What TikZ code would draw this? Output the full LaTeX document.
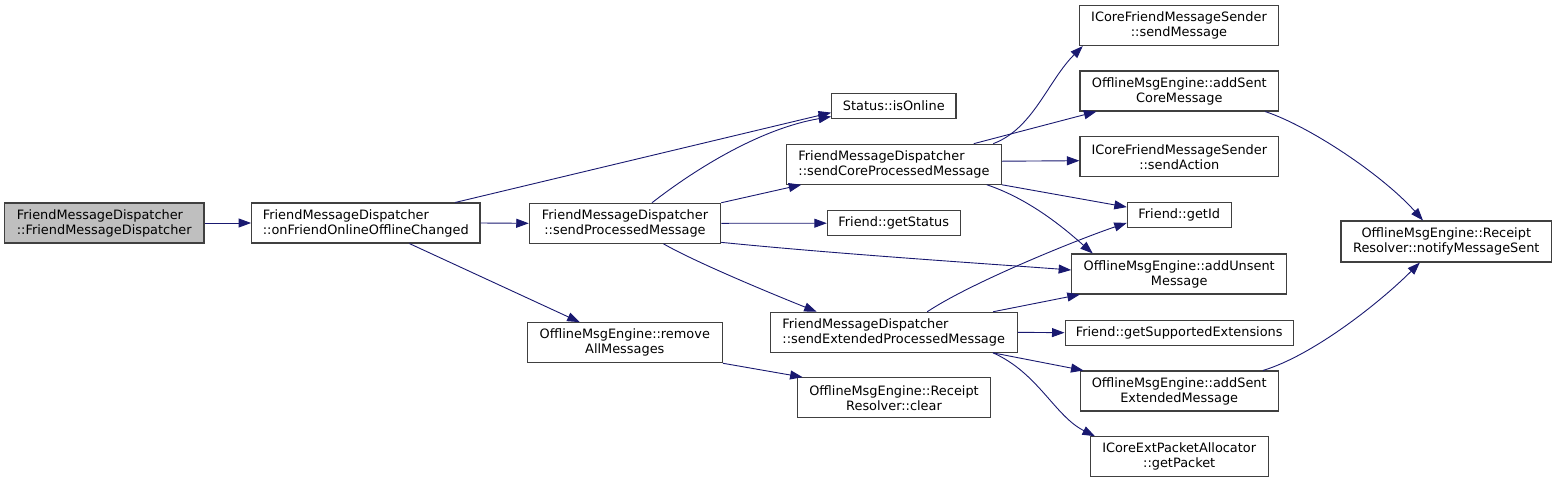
\documentclass[tikz,border=0pt]{standalone}
\usepackage{fontspec}
\setmainfont{DejaVu Sans}
\usetikzlibrary{arrows.meta,calc}
\definecolor{edgeblue}{HTML}{191970}
\definecolor{boxline}{HTML}{404040}
\definecolor{rootfill}{HTML}{BFBFBF}
\begin{document}
\begin{tikzpicture}[x=1pt,y=-1pt,
  fn/.style={draw=boxline,line width=1.1pt,fill=white,inner sep=0pt,
    font=\fontsize{12.9}{15}\selectfont,text=black},
  two/.style={fn,minimum height=40pt},
  one/.style={fn,minimum height=25.3pt},
  call/.style={draw=edgeblue,line width=0.9pt,-{Triangle[length=12.5pt,width=9pt]},fill=none}]
\useasboundingbox (0,0) rectangle (1557,483);
% nodes
\node[two,fill=rootfill,minimum width=199.3pt,align=left] (root) at (104.3,223) {FriendMessageDispatcher\\::FriendMessageDispatcher};
\node[two,minimum width=228.3pt,align=left] (onl) at (365.8,223) {FriendMessageDispatcher\\::onFriendOnlineOfflineChanged};
\node[two,minimum width=191.4pt,align=center] (spm) at (625,223.3) {FriendMessageDispatcher\\::sendProcessedMessage};
\node[one,minimum width=124.3pt] (ison) at (893.8,106) {Status::isOnline};
\node[two,minimum width=214.6pt,align=left] (score) at (894,164.2) {FriendMessageDispatcher\\::sendCoreProcessedMessage};
\node[one,minimum width=132.7pt] (gstat) at (893.7,223.2) {Friend::getStatus};
\node[two,minimum width=195pt,align=center] (rem) at (624.8,342.7) {OfflineMsgEngine::remove\\AllMessages};
\node[two,minimum width=247.3pt,align=left] (sext) at (893.7,332.3) {FriendMessageDispatcher\\::sendExtendedProcessedMessage};
\node[two,minimum width=193.4pt,align=center] (clr) at (894,397.7) {OfflineMsgEngine::Receipt\\Resolver::clear};
\node[two,minimum width=199.4pt,align=center] (smsg) at (1179,25.5) {ICoreFriendMessageSender\\::sendMessage};
\node[two,minimum width=198.7pt,align=center] (asc) at (1179.3,91) {OfflineMsgEngine::addSent\\CoreMessage};
\node[two,minimum width=198.7pt,align=center] (sact) at (1179.3,156.7) {ICoreFriendMessageSender\\::sendAction};
\node[one,minimum width=103.7pt] (gid) at (1179.2,215) {Friend::getId};
\node[two,minimum width=215pt,align=center] (aun) at (1179.2,274) {OfflineMsgEngine::addUnsent\\Message};
\node[one,minimum width=228.3pt] (gse) at (1179.2,332.7) {Friend::getSupportedExtensions};
\node[two,minimum width=198.3pt,align=center] (ase) at (1179.2,391) {OfflineMsgEngine::addSent\\ExtendedMessage};
\node[two,minimum width=178.3pt,align=center] (gpk) at (1179.2,456.7) {ICoreExtPacketAllocator\\::getPacket};
\node[two,minimum height=41pt,minimum width=210.7pt,align=center] (nms) at (1446.3,241.5) {OfflineMsgEngine::Receipt\\Resolver::notifyMessageSent};
% edges
\draw[call] (root.east) -- (onl.west);
\draw[call] ($(onl.north west)!0.89!(onl.north east)$) -- ($(ison.north west)!0.75!(ison.south west)$);
\draw[call] (onl.east) -- (spm.west);
\draw[call] ($(onl.south west)!0.69!(onl.south east)$) -- ($(rem.north west)!0.27!(rem.north east)$);
\draw[call] ($(spm.north west)!0.64!(spm.north east)$) .. controls +(45,-35) and +(-70,12) .. ($(ison.north west)!0.9!(ison.south west)$);
\draw[call] (spm.north east) -- ($(score.south west)!0.07!(score.south east)$);
\draw[call] (spm.east) -- (gstat.west);
\draw[call] ($(spm.south east)+(0,-1.5)$) .. controls +(120,12) and +(-80,-6) .. ($(aun.west)+(0,-4)$);
\draw[call] ($(spm.south west)!0.7!(spm.south east)$) .. controls +(35,20) and +(-35,-14) .. ($(sext.north west)!0.19!(sext.north east)$);
\draw[call] ($(score.north west)!0.96!(score.north east)$) .. controls +(40,-15) and +(-35,35) .. ($(smsg.south west)!0.02!(smsg.south east)$);
\draw[call] ($(score.north west)!0.87!(score.north east)$) -- ($(asc.south west)!0.085!(asc.south east)$);
\draw[call] ($(score.east)+(0,-3)$) -- ($(sact.west)+(0,4)$);
\draw[call] (score.south east) -- ($(gid.north west)!0.2!(gid.south west)$);
\draw[call] ($(score.south west)!0.93!(score.south east)$) .. controls +(45,15) and +(-25,-22) .. ($(aun.north west)!0.1!(aun.north east)$);
\draw[call] ($(sext.north west)!0.635!(sext.north east)$) .. controls +(45,-30) and +(-45,15) .. ($(gid.north west)!0.8!(gid.south west)$);
\draw[call] ($(sext.north west)!0.9!(sext.north east)$) -- ($(aun.south west)!0.04!(aun.south east)$);
\draw[call] (sext.east) -- (gse.west);
\draw[call] ($(sext.south west)!0.9!(sext.south east)$) -- ($(ase.north west)!0.02!(ase.north east)$);
\draw[call] ($(sext.south west)!0.9!(sext.south east)$) .. controls +(45,20) and +(-40,-20) .. ($(gpk.north west)!0.03!(gpk.north east)$);
\draw[call] (rem.south east) -- ($(clr.north west)!0.03!(clr.north east)$);
\draw[call] ($(asc.south west)!0.93!(asc.south east)$) .. controls +(45,15) and +(-40,-45) .. ($(nms.north west)!0.39!(nms.north east)$);
\draw[call] ($(ase.north west)!0.92!(ase.north east)$) .. controls +(50,-15) and +(-40,40) .. ($(nms.south west)!0.375!(nms.south east)$);
\end{tikzpicture}
\end{document}
